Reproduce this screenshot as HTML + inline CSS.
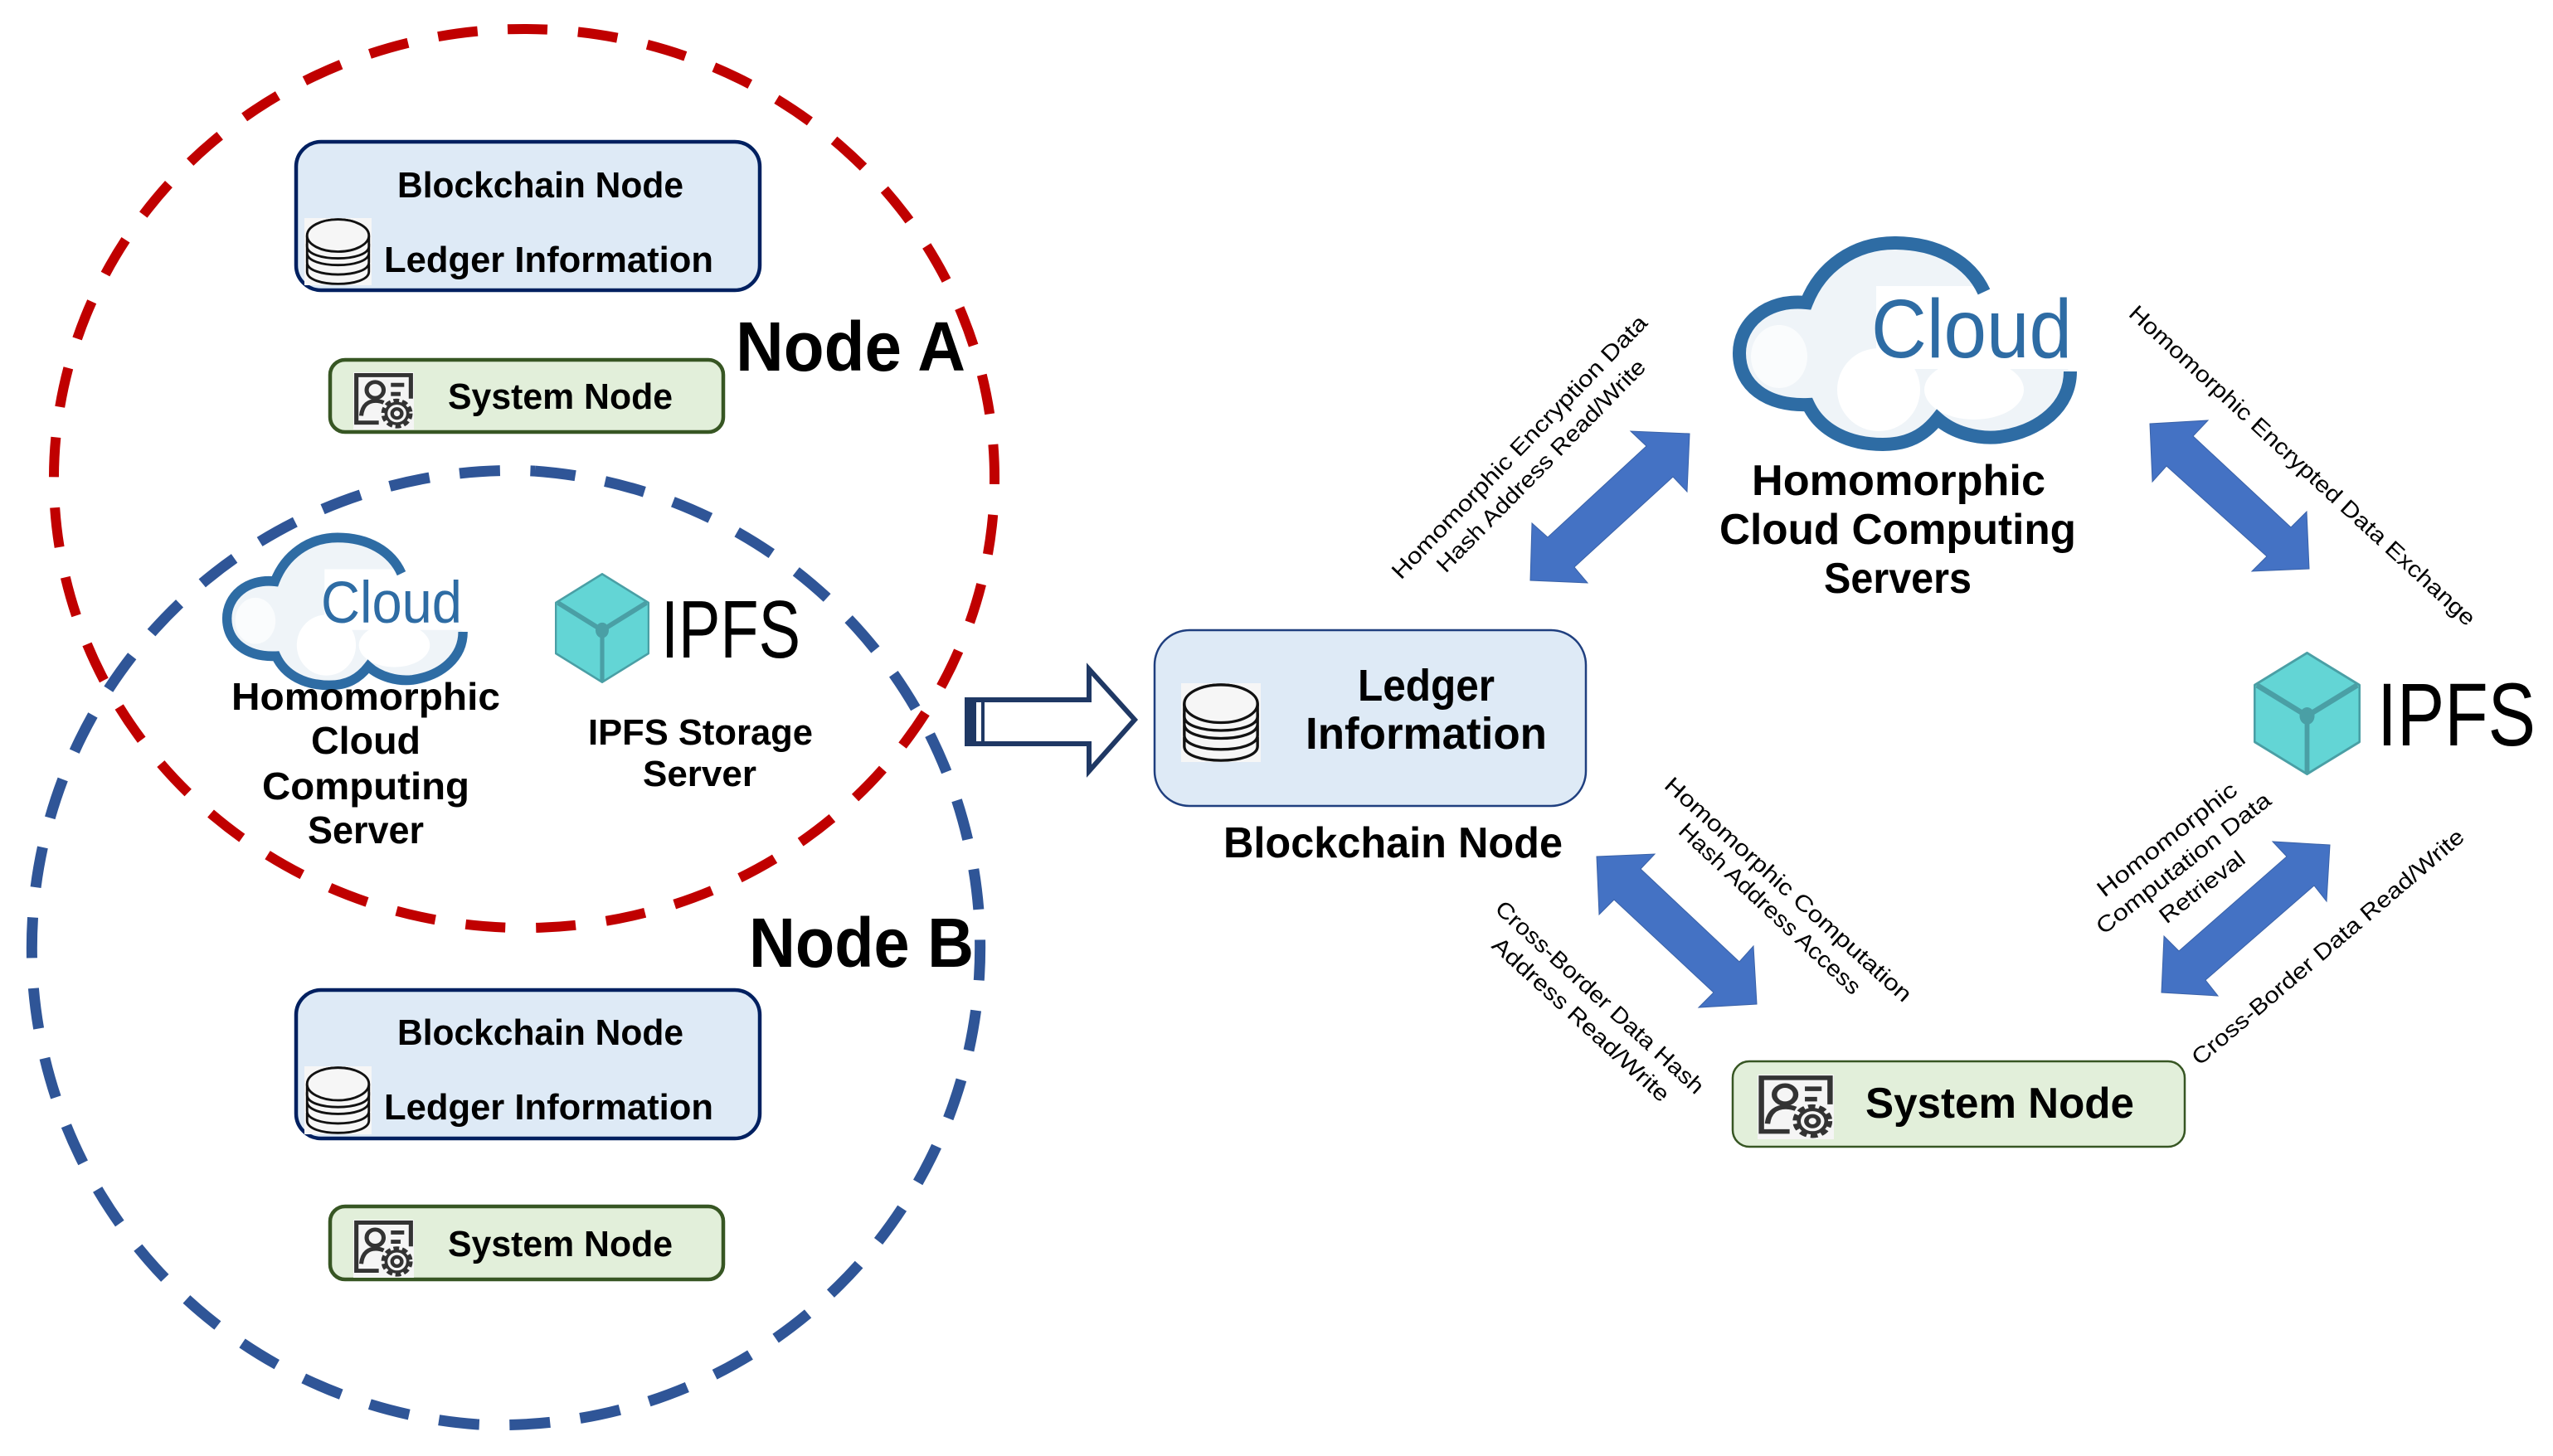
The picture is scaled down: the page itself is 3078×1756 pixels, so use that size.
<!DOCTYPE html>
<html lang="en">
<head>
<meta charset="utf-8">
<title>Node architecture diagram</title>
<style>
html,body{margin:0;padding:0;background:#fff;width:3078px;height:1756px;overflow:hidden}
svg{display:block}
text{font-family:"Liberation Sans",sans-serif;fill:#000}
.b{font-weight:700}
.c{fill:#2e6ca4}
.t{font-size:27px}
</style>
</head>
<body>
<svg width="3078" height="1756" viewBox="0 0 3078 1756" xmlns="http://www.w3.org/2000/svg">
<defs>
<symbol id="db" viewBox="0 0 100 100" preserveAspectRatio="none">
  <rect width="100" height="100" fill="#f6f6f6"/>
  <g fill="#f6f6f6" stroke="#111" stroke-width="3.5">
    <path d="M4 70 V80 C4 104 96 104 96 80 V70 Z"/>
    <path d="M4 55 V66 C4 90 96 90 96 66 V55 Z"/>
    <path d="M4 40 V52 C4 76 96 76 96 52 V40 Z"/>
    <ellipse cx="50" cy="27" rx="46" ry="25"/>
    <path d="M4 27 V42 C4 66 96 66 96 42 V27" fill="#f6f6f6"/>
    <ellipse cx="50" cy="26" rx="46" ry="24" fill="#f6f6f6"/>
  </g>
</symbol>
<symbol id="gear" viewBox="0 0 100 100" preserveAspectRatio="none">
  <rect width="100" height="100" fill="#f5f5f5"/>
  <path d="M42 88 H5 V5 H95 V46" fill="none" stroke="#333" stroke-width="7"/>
  <circle cx="36" cy="31" r="14" fill="none" stroke="#333" stroke-width="7"/>
  <path d="M13 76 C15 56 26 50 37 50 C43 50 46 51 50 53" fill="none" stroke="#333" stroke-width="7"/>
  <path d="M62 22 H84 M62 38 H78" stroke="#333" stroke-width="7"/>
  <circle cx="72" cy="72" r="22" fill="none" stroke="#333" stroke-width="8" stroke-dasharray="9 5"/>
  <circle cx="72" cy="72" r="18" fill="#f5f5f5" stroke="#333" stroke-width="5"/>
  <circle cx="72" cy="72" r="8" fill="none" stroke="#333" stroke-width="6"/>
</symbol>
<symbol id="hex" viewBox="0 0 100 100" preserveAspectRatio="none">
  <polygon points="50,1 99,27 99,73 50,99 1,73 1,27" fill="#63d5d5" stroke="#4a9fa5" stroke-width="2" stroke-linejoin="round"/>
  <path d="M3 27 L50 52 L97 27 M50 52 V98" fill="none" stroke="#4a9fa5" stroke-width="4.5"/>
  <circle cx="50" cy="52" r="7" fill="#4a9fa5"/>
</symbol>
<g id="cloudShape">
  <path d="M2392 352 C2375 315 2335 293 2284 293 C2235 293 2195 322 2178 365 C2130 360 2097 390 2097 426 C2097 465 2130 490 2180 488 C2195 520 2230 536 2270 536 C2300 536 2320 525 2336 505 C2355 522 2385 530 2411 527 C2460 520 2496 490 2496 448 Z" fill="#eff4f8"/>
  <ellipse cx="2145" cy="430" rx="34" ry="38" fill="#fff" opacity=".7"/>
  <ellipse cx="2265" cy="470" rx="50" ry="50" fill="#fff"/>
  <ellipse cx="2380" cy="470" rx="60" ry="36" fill="#fff"/>
  <rect x="2262" y="345" width="250" height="100" fill="#fff"/>
  <path d="M2392 352 C2375 315 2335 293 2284 293 C2235 293 2195 322 2178 365 C2130 360 2097 390 2097 426 C2097 465 2130 490 2180 488 C2195 520 2230 536 2270 536 C2300 536 2320 525 2336 505 C2355 522 2385 530 2411 527 C2460 520 2496 490 2496 448" fill="none" stroke="#2e6ca4" stroke-width="16"/>
</g>
</defs>

<!-- Dashed ellipses -->
<path d="M612 35.3 A567 542 0 0 1 652 1118.7 A567 542 0 0 1 612 35.3" fill="none" stroke="#c00000" stroke-width="12" stroke-dasharray="48 37"/>
<path d="M645 568.1 A579 576 0 0 1 575 1717.9 A579 576 0 0 1 645 568.1" fill="none" stroke="#2f5597" stroke-width="13" stroke-dasharray="49 36.55"/>

<!-- Node A boxes -->
<rect x="357" y="171" width="559" height="179" rx="30" fill="#deeaf6" stroke="#002060" stroke-width="4.5"/>
<text class="b" x="479" y="238" font-size="44" textLength="345" lengthAdjust="spacingAndGlyphs">Blockchain Node</text>
<use href="#db" x="367" y="263" width="81" height="81"/>
<text class="b" x="463" y="328" font-size="44" textLength="397" lengthAdjust="spacingAndGlyphs">Ledger Information</text>
<rect x="398" y="434" width="474" height="87" rx="18" fill="#e2efda" stroke="#375623" stroke-width="4.5"/>
<use href="#gear" x="426" y="449" width="73" height="69"/>
<text class="b" x="540" y="493" font-size="44" textLength="271" lengthAdjust="spacingAndGlyphs">System Node</text>
<text class="b" x="887" y="447" font-size="84" textLength="277" lengthAdjust="spacingAndGlyphs">Node A</text>

<!-- Shared servers (left) -->
<g transform="translate(-1221.5 433.6) scale(.713 .733)"><use href="#cloudShape"/></g>
<text class="c" x="387" y="751" font-size="71" textLength="170" lengthAdjust="spacingAndGlyphs">Cloud</text>
<text class="b" x="279" y="856" font-size="46" textLength="324" lengthAdjust="spacingAndGlyphs">Homomorphic</text>
<text class="b" x="375" y="909" font-size="46" textLength="132" lengthAdjust="spacingAndGlyphs">Cloud</text>
<text class="b" x="316" y="964" font-size="46" textLength="250" lengthAdjust="spacingAndGlyphs">Computing</text>
<text class="b" x="371" y="1017" font-size="46" textLength="140" lengthAdjust="spacingAndGlyphs">Server</text>
<use href="#hex" x="669" y="691" width="114" height="133"/>
<text x="797" y="793" font-size="98" textLength="168" lengthAdjust="spacingAndGlyphs">IPFS</text>
<text class="b" x="709" y="898" font-size="44" textLength="271" lengthAdjust="spacingAndGlyphs">IPFS Storage</text>
<text class="b" x="775" y="948" font-size="44" textLength="137" lengthAdjust="spacingAndGlyphs">Server</text>

<!-- Node B boxes -->
<rect x="357" y="1194" width="559" height="179" rx="30" fill="#deeaf6" stroke="#002060" stroke-width="4.5"/>
<text class="b" x="479" y="1260" font-size="44" textLength="345" lengthAdjust="spacingAndGlyphs">Blockchain Node</text>
<use href="#db" x="367" y="1286" width="81" height="82"/>
<text class="b" x="463" y="1350" font-size="44" textLength="397" lengthAdjust="spacingAndGlyphs">Ledger Information</text>
<rect x="398" y="1455" width="474" height="88" rx="18" fill="#e2efda" stroke="#375623" stroke-width="4.5"/>
<use href="#gear" x="426" y="1471" width="73" height="70"/>
<text class="b" x="540" y="1515" font-size="44" textLength="271" lengthAdjust="spacingAndGlyphs">System Node</text>
<text class="b" x="903" y="1166" font-size="84" textLength="271" lengthAdjust="spacingAndGlyphs">Node B</text>

<!-- Hollow arrow -->
<polygon points="1166,844 1313,844 1313,807 1368,868 1313,930 1313,897 1166,897" fill="#fff" stroke="#1f3864" stroke-width="6"/>
<rect x="1164" y="842" width="13" height="57" fill="#1f3864"/>
<rect x="1183" y="842" width="4" height="57" fill="#1f3864"/>

<!-- Blockchain node (right) -->
<rect x="1392" y="760" width="520" height="212" rx="42" fill="#deeaf6" stroke="#1f3f7f" stroke-width="2.5"/>
<use href="#db" x="1424" y="824" width="96" height="95"/>
<text class="b" x="1637" y="845" font-size="54" textLength="165" lengthAdjust="spacingAndGlyphs">Ledger</text>
<text class="b" x="1574" y="903" font-size="54" textLength="291" lengthAdjust="spacingAndGlyphs">Information</text>
<text class="b" x="1475" y="1034" font-size="52" textLength="409" lengthAdjust="spacingAndGlyphs">Blockchain Node</text>

<!-- Big cloud -->
<use href="#cloudShape"/>
<text class="c" x="2256" y="431" font-size="100" textLength="242" lengthAdjust="spacingAndGlyphs">Cloud</text>
<text class="b" x="2112" y="597" font-size="52" textLength="354" lengthAdjust="spacingAndGlyphs">Homomorphic</text>
<text class="b" x="2073" y="656" font-size="52" textLength="430" lengthAdjust="spacingAndGlyphs">Cloud Computing</text>
<text class="b" x="2199" y="715" font-size="52" textLength="178" lengthAdjust="spacingAndGlyphs">Servers</text>

<!-- Big IPFS -->
<use href="#hex" x="2717" y="786" width="129" height="149"/>
<text x="2866" y="899" font-size="108" textLength="191" lengthAdjust="spacingAndGlyphs">IPFS</text>

<!-- Big system node -->
<rect x="2089" y="1280" width="545" height="103" rx="20" fill="#e2efda" stroke="#375623" stroke-width="2.5"/>
<use href="#gear" x="2119" y="1296" width="92" height="78"/>
<text class="b" x="2249" y="1348" font-size="52" textLength="324" lengthAdjust="spacingAndGlyphs">System Node</text>

<!-- Block arrows -->
<g fill="#4472c4" stroke="#3a62a8" stroke-width="1">
<polygon points="2037,523 1966,520 1985,538 1866,648 1847,631 1845,700 1914,703 1898,684 2017,575 2034,593"/>
<polygon points="2592,511 2662,507 2644,526 2762,636 2781,617 2784,686 2715,689 2733,671 2612,562 2595,581"/>
<polygon points="1925,1033 1995,1030 1978,1048 2097,1160 2114,1141 2118,1211 2048,1215 2066,1197 1946,1085 1928,1103"/>
<polygon points="2809,1019 2740,1015 2757,1033 2627,1147 2609,1129 2606,1197 2674,1201 2659,1182 2790,1068 2805,1087"/>
</g>

<!-- Rotated labels -->
<text class="t" transform="translate(1689 700) rotate(-46)" textLength="430" lengthAdjust="spacingAndGlyphs">Homomorphic Encryption Data</text>
<text class="t" transform="translate(1743 692) rotate(-45.6)" textLength="347" lengthAdjust="spacingAndGlyphs">Hash Address Read/Write</text>
<text class="t" transform="translate(2565 380) rotate(42.6)" textLength="556" lengthAdjust="spacingAndGlyphs">Homomorphic Encrypted Data Exchange</text>
<text class="t" transform="translate(2005 949) rotate(42)" textLength="390" lengthAdjust="spacingAndGlyphs">Homomorphic Computation</text>
<text class="t" transform="translate(2022 1004) rotate(43)" textLength="289" lengthAdjust="spacingAndGlyphs">Hash Address Access</text>
<text class="t" transform="translate(1801 1098) rotate(42.5)" textLength="330" lengthAdjust="spacingAndGlyphs">Cross-Border Data Hash</text>
<text class="t" transform="translate(1797 1142) rotate(42.5)" textLength="279" lengthAdjust="spacingAndGlyphs">Address Read/Write</text>
<text class="t" transform="translate(2537 1083) rotate(-38)" textLength="206" lengthAdjust="spacingAndGlyphs">Homomorphic</text>
<text class="t" transform="translate(2536 1128) rotate(-38)" textLength="259" lengthAdjust="spacingAndGlyphs">Computation Data</text>
<text class="t" transform="translate(2612 1115) rotate(-38)" textLength="123" lengthAdjust="spacingAndGlyphs">Retrieval</text>
<text class="t" transform="translate(2652 1286) rotate(-40.5)" textLength="422" lengthAdjust="spacingAndGlyphs">Cross-Border Data Read/Write</text>
</svg>
</body>
</html>
